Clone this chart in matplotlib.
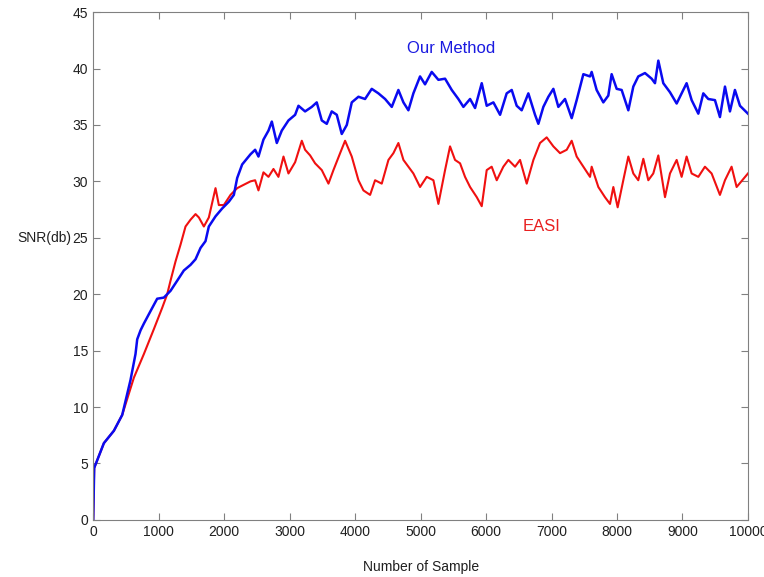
"""SNR versus number of samples: Our Method vs EASI."""

import matplotlib

matplotlib.use("Agg")
import matplotlib.pyplot as plt

# values
OURS_X = [
    0, 15, 163, 316, 443, 570, 646, 672, 723, 774, 875, 977, 1079, 1181, 1283,
    1384, 1486, 1563, 1639, 1715, 1766, 1868, 1970, 2072, 2148, 2199, 2275, 2402,
    2473, 2524, 2600, 2677, 2728, 2804, 2880, 2982, 3084, 3135, 3236, 3338, 3414,
    3491, 3567, 3643, 3720, 3796, 3873, 3949, 4051, 4152, 4254, 4356, 4458, 4560,
    4661, 4738, 4814, 4890, 4992, 5068, 5170, 5272, 5374, 5476, 5577, 5654, 5756,
    5832, 5934, 6010, 6112, 6214, 6315, 6392, 6468, 6544, 6646, 6748, 6799, 6875,
    6952, 7028, 7104, 7206, 7308, 7384, 7486, 7588, 7613, 7689, 7791, 7867, 7918,
    7995, 8071, 8173, 8249, 8325, 8427, 8529, 8580, 8631, 8707, 8809, 8911, 8987,
    9063, 9140, 9242, 9318, 9394, 9496, 9572, 9649, 9725, 9801, 9878, 10000,
]
OURS_SNR = [
    0.0, 4.6, 6.8, 7.9, 9.3, 12.4, 14.7, 16.0, 16.8, 17.4, 18.5, 19.6, 19.7, 20.3, 21.2,
    22.1, 22.6, 23.1, 24.1, 24.7, 26.0, 26.9, 27.6, 28.2, 28.8, 30.3, 31.5, 32.4,
    32.8, 32.2, 33.7, 34.5, 35.3, 33.4, 34.5, 35.4, 35.9, 36.7, 36.2, 36.6, 37.0,
    35.4, 35.1, 36.2, 35.9, 34.2, 35.0, 37.0, 37.5, 37.3, 38.2, 37.8, 37.3, 36.6,
    38.1, 37.0, 36.3, 37.8, 39.3, 38.6, 39.7, 39.0, 39.1, 38.1, 37.3, 36.6, 37.3,
    36.5, 38.7, 36.7, 37.0, 35.9, 37.8, 38.1, 36.7, 36.3, 37.8, 35.9, 35.1, 36.6,
    37.5, 38.2, 36.6, 37.3, 35.6, 37.2, 39.5, 39.3, 39.7, 38.1, 37.0, 37.6, 39.5,
    38.2, 38.1, 36.3, 38.4, 39.3, 39.6, 39.1, 38.7, 40.7, 38.7, 37.9, 36.9, 37.8,
    38.7, 37.2, 36.0, 37.8, 37.3, 37.2, 35.7, 38.4, 36.2, 38.1, 36.7, 36.0,
]

EASI_X = [
    0, 15, 163, 316, 443, 621, 774, 926, 1054, 1130, 1181, 1257, 1334, 1410, 1486,
    1563, 1614, 1690, 1766, 1868, 1919, 1995, 2097, 2199, 2300, 2402,
    2473, 2524, 2600, 2677, 2753, 2829, 2906, 2982, 3084, 3186, 3236, 3313, 3389,
    3491, 3593, 3669, 3771, 3847, 3949, 4051, 4127, 4229, 4305, 4407, 4509, 4585,
    4661, 4738, 4814, 4890, 4992, 5094, 5196, 5272, 5374, 5450, 5526, 5603, 5679,
    5756, 5858, 5934, 6010, 6086, 6163, 6264, 6341, 6443, 6519, 6621, 6723, 6824,
    6926, 7028, 7130, 7232, 7308, 7384, 7486, 7588, 7613, 7715, 7816, 7893, 7944,
    8010, 8096, 8173, 8249, 8325, 8402, 8478, 8554, 8631, 8733, 8809, 8911, 8987,
    9063, 9140, 9242, 9343, 9445, 9572, 9649, 9750, 9827, 10000,
]
EASI_SNR = [
    0.0, 4.6, 6.8, 7.9, 9.3, 12.6, 14.7, 16.9, 18.8, 20.0, 21.2, 22.9, 24.4, 26.0, 26.6,
    27.1, 26.8, 26.0, 26.8, 29.4, 27.9, 27.9, 28.8, 29.4, 29.7, 30.0,
    30.1, 29.2, 30.8, 30.4, 31.1, 30.4, 32.2, 30.7, 31.7, 33.6, 32.8, 32.3, 31.6,
    31.0, 29.8, 31.0, 32.5, 33.6, 32.2, 30.1, 29.2, 28.8, 30.1, 29.8, 31.9, 32.5,
    33.4, 31.9, 31.3, 30.7, 29.5, 30.4, 30.1, 28.0, 31.0, 33.1, 31.9, 31.6, 30.4,
    29.5, 28.6, 27.8, 31.0, 31.3, 30.1, 31.3, 31.9, 31.3, 31.9, 29.8, 31.9, 33.4,
    33.9, 33.1, 32.5, 32.8, 33.6, 32.2, 31.3, 30.4, 31.3, 29.5, 28.6, 28.0, 29.5,
    27.7, 30.1, 32.2, 30.7, 30.1, 32.0, 30.1, 30.7, 32.3, 28.6, 30.7, 31.9, 30.4,
    32.2, 30.7, 30.4, 31.3, 30.7, 28.8, 30.1, 31.3, 29.5, 30.7,
]

X_TICKS = list(range(0, 10001, 1000))
Y_TICKS = list(range(0, 46, 5))

plt.rcParams["font.family"] = ["Liberation Sans", "DejaVu Sans"]

fig = plt.figure(figsize=(7.64, 5.77), dpi=100)
ax = fig.add_axes([0.122, 0.099, 0.857, 0.880])

ax.plot(EASI_X, EASI_SNR, color="#f01010", linewidth=1.5)
ax.plot(OURS_X, OURS_SNR, color="#0a0af0", linewidth=1.8)

ax.text(5466, 41.8, "Our Method", color="#1a1ae0", fontsize=12, ha="center", va="center")
ax.text(6855, 26.0, "EASI", color="#e82020", fontsize=12, ha="center", va="center")

ax.set_xlim(0, 10000)
ax.set_ylim(0, 45)
ax.set_xticks(X_TICKS)
ax.set_yticks(Y_TICKS)
ax.tick_params(direction="in", length=5, top=True, right=True, color="#808080",
               labelcolor="#202020", labelsize=10)
for spine in ax.spines.values():
    spine.set_color("#808080")

ax.set_xlabel("Number of Sample", fontsize=10, color="#202020", labelpad=15)
ax.set_ylabel("SNR(db)", fontsize=10, color="#202020", rotation=0,
              ha="right", va="center", labelpad=8)
ax.yaxis.set_label_coords(-0.033, 25 / 45)

fig.savefig("out.png", dpi=100)
